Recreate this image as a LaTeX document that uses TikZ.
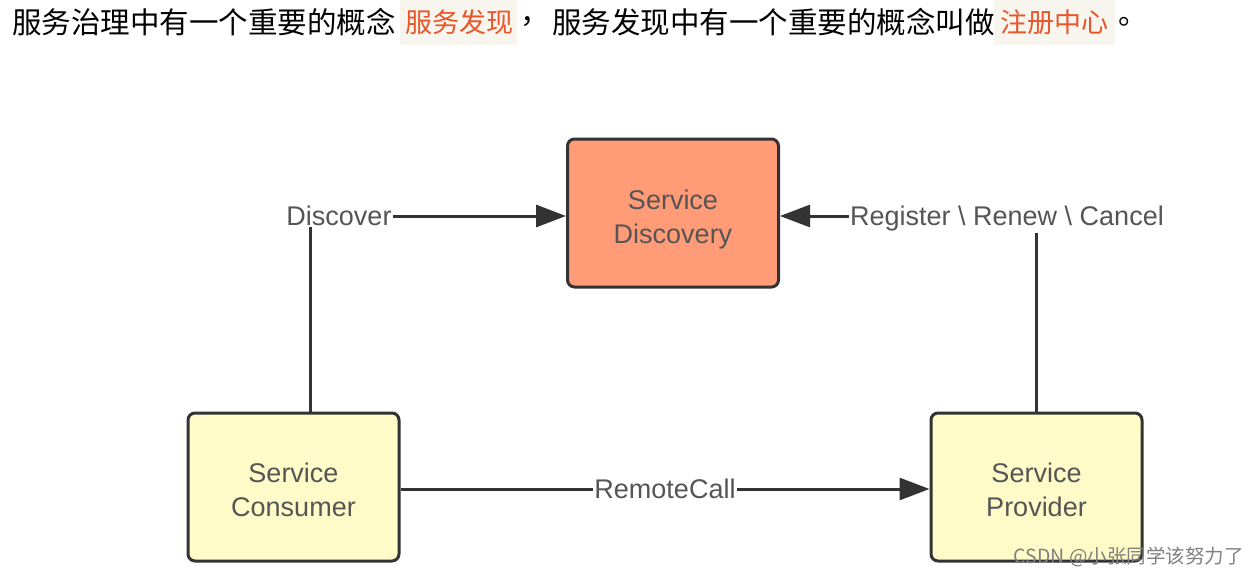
\documentclass[tikz,border=0pt]{standalone}
\usepackage{fontspec}
\setmainfont{Liberation Sans}
\newfontfamily\cjk{Noto Sans CJK SC}
\usetikzlibrary{arrows.meta}
\definecolor{salmon}{HTML}{FF9B76}
\definecolor{paleyellow}{HTML}{FFFBC8}
\definecolor{edgec}{HTML}{333333}
\definecolor{txtc}{HTML}{555555}
\definecolor{hlorange}{HTML}{E8562A}
\definecolor{hlbg}{HTML}{F8F5EE}
\tikzset{
  box/.style={draw=edgec, line width=3pt, rounded corners=7pt, minimum width=211pt, minimum height=148pt},
  boxtxt/.style={align=center, text=txtc, inner sep=0pt, font=\fontsize{27}{34}\selectfont},
  conn/.style={draw=edgec, line width=3pt, -{Triangle[length=30pt,width=22pt]}},
  lbl/.style={fill=white, text=txtc, inner sep=1pt, font=\fontsize{27}{32}\selectfont},
  titletxt/.style={anchor=west, inner sep=0pt, font=\cjk\fontsize{29.5}{32}\selectfont},
  hltxt/.style={anchor=west, inner sep=0pt, text=hlorange, font=\cjk\fontsize{27}{30}\selectfont},
}
\begin{document}
\begin{tikzpicture}[x=1pt,y=-1pt]
\useasboundingbox (0,0) rectangle (1256,578);
% title
\fill[hlbg] (400,0) rectangle (517,45);
\fill[hlbg] (994,0) rectangle (1115,45);
\node[titletxt] (t1) at (12,22) {服务治理中有一个重要的概念};
\node[hltxt] (t2) at (405,22) {服务发现};
\node[titletxt] (t3) at (520,22) {，};
\node[titletxt] (t4) at (552,22) {服务发现中有一个重要的概念叫做};
\node[hltxt] (t5) at (1000,22) {注册中心};
\node[titletxt] (t6) at (1118,22) {。};
% boxes
\node[box, fill=salmon] (disc) at (673,213) {};
\node[box, fill=paleyellow] (cons) at (293.5,487) {};
\node[box, fill=paleyellow] (prov) at (1036.5,487) {};
\node[boxtxt] (disct) at ([yshift=-7pt]disc.center) {Service\\Discovery};
\node[boxtxt] (const) at ([yshift=-3pt]cons.center) {Service\\Consumer};
\node[boxtxt] (provt) at ([yshift=-3pt]prov.center) {Service\\Provider};
% connectors
\draw[conn] ([xshift=16.5pt]cons.north) |- ([yshift=-3pt]disc.west);
\draw[conn] (prov.north) |- ([yshift=-3pt]disc.east);
\draw[conn] ([yshift=-2pt]cons.east) -- ([yshift=-2pt]prov.west);
% labels
\node[lbl] (ldisc) at (339,216) {Discover};
\node[lbl] (lreg) at (1007,219) {Register \textbackslash{} Renew \textbackslash{} Cancel};
\node[lbl] (lrc) at (665,489) {RemoteCall};
% watermark
\node[anchor=east, inner sep=0pt, text=black!50, font=\cjk\fontsize{19.5}{21}\selectfont] (wm) at (1244,557) {CSDN @小张同学该努力了};
\end{tikzpicture}
\end{document}
